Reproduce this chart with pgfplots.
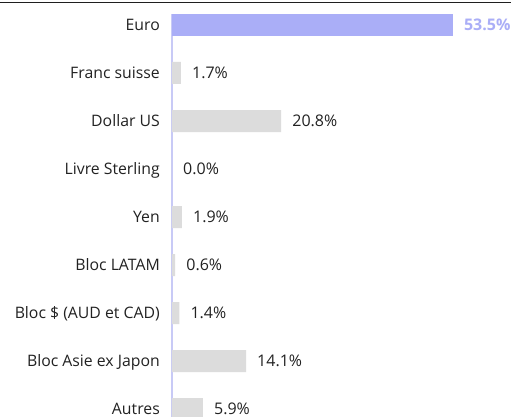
\documentclass[border=0pt]{standalone}
\usepackage{pgfplots}
\pgfplotsset{compat=1.18}
\usepackage{fontspec}
\setmainfont{Open Sans}
\definecolor{eurobar}{HTML}{AAAEF7}
\definecolor{greybar}{HTML}{DCDCDC}
\definecolor{axisline}{HTML}{C8CAF6}
\definecolor{txt}{HTML}{222222}
\begin{document}
\begin{tikzpicture}[x=1pt,y=1pt]
\useasboundingbox (0,0) rectangle (511,416);
\clip (0,0) rectangle (511,416);
\fill[white] (0,0) rectangle (511,416);
\draw[line width=1.5pt, black!88] (0,413.5) -- (511,413.5);
\begin{axis}[
  at={(172pt,402pt)}, anchor=north west,
  scale only axis, width=336pt, height=428.6pt,
  xmin=0, xmax=64, ymin=-0.229, ymax=8.7,
  y dir=reverse,
  clip=false,
  axis x line=none,
  axis y line*=left,
  y axis line style={draw=axisline, line width=1.3pt, -},
  xtick=\empty,
  ytick={0,...,8},
  yticklabels={Euro,Franc suisse,Dollar US,Livre Sterling,Yen,Bloc LATAM,{Bloc \$ (AUD et CAD)},Bloc Asie ex Japon,Autres},
  major tick length=0pt,
  yticklabel style={anchor=base east, inner sep=0pt, xshift=-12pt, yshift=-5.8pt, font=\fontsize{15.8}{18}\selectfont, text=txt},
  xbar, bar width=22pt, bar shift=0pt,
  point meta=x,
  nodes near coords={\pgfmathprintnumber{\pgfplotspointmeta}\%},
  every node near coord/.append style={anchor=base west, inner sep=0pt, xshift=11pt, yshift=-5.8pt, font=\fontsize{16}{18}\selectfont},
  /pgf/number format/.cd, fixed, fixed zerofill, precision=1, assume math mode=true,
]
\addplot[draw=none, fill=eurobar, nodes near coords style={text=eurobar, font=\fontsize{16}{18}\selectfont\bfseries}] coordinates {(53.5,0)};
\addplot[draw=none, fill=greybar, nodes near coords style={text=txt}] coordinates {(1.7,1) (20.8,2) (0.0,3) (1.9,4) (0.6,5) (1.4,6) (14.1,7) (5.9,8)};
\end{axis}
\end{tikzpicture}
\end{document}
